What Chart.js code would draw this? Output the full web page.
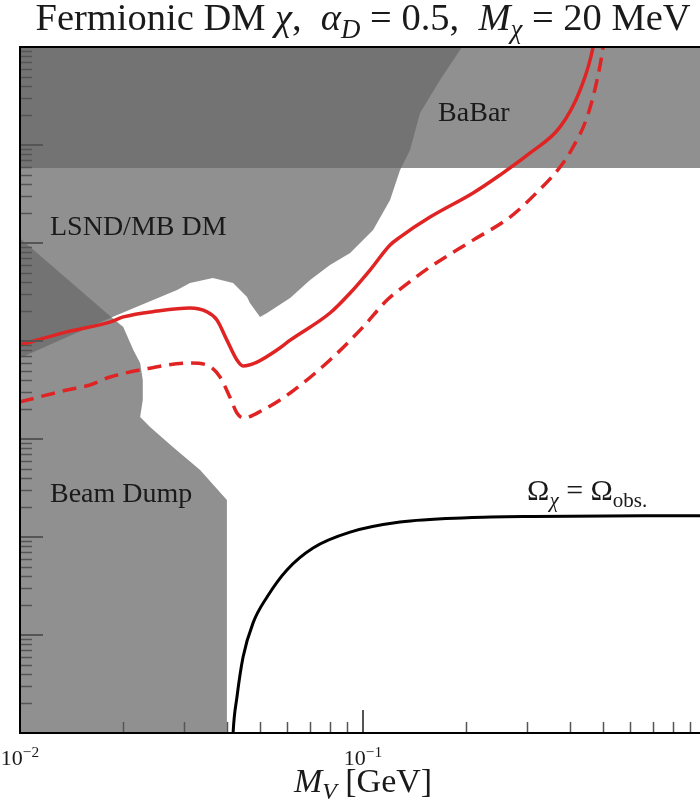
<!DOCTYPE html>
<html>
<head>
<meta charset="utf-8">
<script src="https://cdn.jsdelivr.net/npm/chart.js@4/dist/chart.umd.min.js"></script>
<style>
    html, body { margin: 0; padding: 0; background: #fff; overflow: hidden; }
    #wrap { width: 700px; height: 808px; }
</style>
</head>
<body>
<div id="wrap"><canvas id="chartDM" width="700" height="808"></canvas></div>
<script>
// axis ranges (x = M_V in GeV, y unlabeled in the figure)
var xMin = 0.01, xMax = 0.96;
var yMin = 1e-14, yMax = 1e-7;

var xMajor = [0.01, 0.1];
var xMinor = [0.02, 0.03, 0.04, 0.05, 0.06, 0.07, 0.08, 0.09, 0.2, 0.3, 0.4, 0.5, 0.6, 0.7, 0.8, 0.9];
var yDecades = [1e-14, 1e-13, 1e-12, 1e-11, 1e-10, 1e-9, 1e-8, 1e-7];

// red solid curve
var solidX = [0.0100, 0.0137, 0.0183, 0.0200, 0.0251, 0.0313, 0.0351, 0.0375, 0.0401, 0.0429, 0.0447, 0.0491, 0.0561, 0.0613, 0.0801, 0.0917, 0.1048, 0.1199, 0.1282, 0.1568, 0.2093, 0.2508, 0.3069, 0.3753, 0.4293, 0.4684, 0.4811];
var solidY = [9.10e-11, 1.24e-10, 1.56e-10, 1.76e-10, 2.02e-10, 2.17e-10, 1.98e-10, 1.64e-10, 1.02e-10, 6.40e-11, 5.56e-11, 6.10e-11, 8.09e-11, 1.02e-10, 1.93e-10, 3.09e-10, 5.30e-10, 9.54e-10, 1.15e-9, 1.84e-9, 3.24e-9, 4.94e-9, 8.29e-9, 1.53e-8, 3.64e-8, 1.0e-7, 1.9e-7];

// red dashed curve
var dashX = [0.0100, 0.0137, 0.0160, 0.0183, 0.0224, 0.0313, 0.0351, 0.0383, 0.0409, 0.0429, 0.0447, 0.0511, 0.0613, 0.0801, 0.1000, 0.1175, 0.1308, 0.1568, 0.2093, 0.2683, 0.3217, 0.3753, 0.4095, 0.4500, 0.4811, 0.5008, 0.5110];
var dashY = [2.39e-11, 3.16e-11, 3.56e-11, 4.29e-11, 5.06e-11, 5.96e-11, 5.69e-11, 4.29e-11, 2.68e-11, 1.84e-11, 1.64e-11, 1.98e-11, 2.95e-11, 6.40e-11, 1.39e-10, 2.62e-10, 3.56e-10, 5.69e-10, 1.07e-9, 1.84e-9, 3.30e-9, 5.96e-9, 9.54e-9, 1.93e-8, 4.61e-8, 1.0e-7, 1.9e-7];

// relic abundance curve
var relicX = [0.0415, 0.0418, 0.0429, 0.0447, 0.0478, 0.0525, 0.0600, 0.0715, 0.0917, 0.1282, 0.2011, 0.3131, 0.9600];
var relicY = [5e-15, 1e-14, 2.33e-14, 5.96e-14, 1.33e-13, 2.44e-13, 4.61e-13, 7.72e-13, 1.12e-12, 1.42e-12, 1.57e-12, 1.62e-12, 1.65e-12];

// excluded regions (closed outlines)
var babarX = [0.009, 1.0, 1.0, 0.009];
var babarY = [1.2e-7, 1.2e-7, 5.82e-9, 5.82e-9];

var lsndX = [0.009, 0.198, 0.1944, 0.1677, 0.1466, 0.1371, 0.1282, 0.1199, 0.1070, 0.0917, 0.0801, 0.0701, 0.0613, 0.0525, 0.0501, 0.0468, 0.0459, 0.0418, 0.0365, 0.0313, 0.0287, 0.0183, 0.0100, 0.009];
var lsndY = [1.2e-7, 1.2e-7, 1.0e-7, 4.61e-8, 2.12e-8, 8.89e-9, 5.56e-9, 2.75e-9, 1.36e-9, 7.91e-10, 5.96e-10, 4.19e-10, 2.75e-10, 1.93e-10, 1.76e-10, 2.44e-10, 2.81e-10, 3.91e-10, 4.39e-10, 3.91e-10, 3.31e-10, 1.72e-10, 6.71e-11, 5.70e-11];

var beamX = [0.009, 0.0100, 0.0183, 0.0200, 0.0214, 0.0224, 0.0228, 0.0228, 0.0224, 0.0239, 0.0279, 0.0335, 0.0401, 0.0401, 0.009];
var beamY = [1.54e-9, 1.12e-9, 1.80e-10, 1.39e-10, 8.09e-11, 5.96e-11, 4.00e-11, 2.50e-11, 1.68e-11, 1.33e-11, 8.29e-12, 4.83e-12, 2.39e-12, 5e-15, 5e-15];

// label anchors (left, baseline) in data coordinates
var labels = [
    { x: 0.1655, y: 1.76e-8, size: 28, parts: [{ t: 'BaBar' }] },
    { x: 0.01223, y: 1.21e-9, size: 28, parts: [{ t: 'LSND/MB DM' }] },
    { x: 0.01223, y: 2.28e-12, size: 28, parts: [{ t: 'Beam Dump' }] },
    { x: 0.3008, y: 2.39e-12, size: 30, parts: [{ t: 'Ω' }, { t: 'χ', it: true, sub: true }, { t: ' = Ω' }, { t: 'obs.', sub: true }] }
];

var SERIF = '"Liberation Serif", "Times New Roman", serif';

function pts(xs, ys) {
    return xs.map(function (x, i) { return { x: x, y: ys[i] }; });
}

function fontFor(p, size) {
    var s = (p.sub || p.sup) ? size * 0.7 : size;
    return (p.it ? 'italic ' : '') + s.toFixed(1) + 'px ' + SERIF;
}

function drawRich(ctx, parts, x, y, size, align) {
    var total = 0;
    parts.forEach(function (p) {
        ctx.font = fontFor(p, size);
        p.w = ctx.measureText(p.t).width;
        total += p.w;
    });
    var cx = align === 'center' ? x - total / 2 : x;
    parts.forEach(function (p) {
        ctx.font = fontFor(p, size);
        var dy = p.sub ? size * 0.22 : (p.sup ? -size * 0.36 : 0);
        ctx.fillText(p.t, cx, y + dy);
        cx += p.w;
    });
}

var framePlugin = {
    id: 'frame',
    afterDatasetsDraw: function (chart) {
        var ctx = chart.ctx, a = chart.chartArea;
        var xs = chart.scales.x, ys = chart.scales.y;
        ctx.save();

        // inward ticks
        ctx.strokeStyle = '#555';
        ctx.lineWidth = 1.5;
        ctx.beginPath();
        xMinor.forEach(function (v) {
            var px = Math.round(xs.getPixelForValue(v)) + 0.5;
            ctx.moveTo(px, a.bottom); ctx.lineTo(px, a.bottom - 11);
        });
        yDecades.forEach(function (d) {
            for (var k = 2; k <= 9; k++) {
                var py = Math.round(ys.getPixelForValue(d * k)) + 0.5;
                if (py < a.top) continue;
                ctx.moveTo(a.left, py); ctx.lineTo(a.left + 12, py);
            }
        });
        ctx.stroke();
        ctx.lineWidth = 2;
        ctx.beginPath();
        xMajor.forEach(function (v) {
            var px = Math.round(xs.getPixelForValue(v));
            ctx.moveTo(px, a.bottom); ctx.lineTo(px, a.bottom - 23);
        });
        yDecades.forEach(function (d) {
            var py = Math.round(ys.getPixelForValue(d));
            ctx.moveTo(a.left, py); ctx.lineTo(a.left + 23, py);
        });
        ctx.stroke();

        // frame (right side lies outside the picture)
        ctx.strokeStyle = '#000';
        ctx.lineWidth = 2;
        ctx.beginPath();
        ctx.moveTo(a.right + 2, a.top); ctx.lineTo(a.left, a.top);
        ctx.lineTo(a.left, a.bottom); ctx.lineTo(a.right + 2, a.bottom);
        ctx.stroke();

        ctx.fillStyle = '#1a1a1a';
        ctx.textBaseline = 'alphabetic';
        ctx.textAlign = 'left';

        // region labels
        labels.forEach(function (l) {
            drawRich(ctx, l.parts, xs.getPixelForValue(l.x), ys.getPixelForValue(l.y), l.size, 'left');
        });

        // tick labels
        xMajor.forEach(function (v) {
            var e = Math.round(Math.log10(v));
            drawRich(ctx, [{ t: '10' }, { t: '\u2212' + Math.abs(e), sup: true }],
                xs.getPixelForValue(v), a.bottom + 32, 22, 'center');
        });

        // axis title and title, centred on the 10^-1 tick
        var mid = xs.getPixelForValue(0.1);
        drawRich(ctx, [{ t: 'M', it: true }, { t: 'V', it: true, sub: true }, { t: ' [GeV]' }],
            mid, a.bottom + 59, 34, 'center');
        drawRich(ctx, [
            { t: 'Fermionic DM ' }, { t: 'χ', it: true }, { t: ',  ' },
            { t: 'α', it: true }, { t: 'D', it: true, sub: true }, { t: ' = 0.5,  ' },
            { t: 'M', it: true }, { t: 'χ', it: true, sub: true }, { t: ' = 20 MeV' }
        ], mid, 30, 38.5, 'center');

        ctx.restore();
    }
};

var regionFill = 'rgba(105, 105, 105, 0.74)';

function region(name, xs, ys) {
    return {
        label: name,
        data: pts(xs, ys),
        showLine: true,
        fill: 'shape',
        backgroundColor: regionFill,
        borderWidth: 0,
        pointRadius: 0,
        tension: 0,
        order: 2
    };
}

function curve(name, xs, ys, color, width, dash) {
    return {
        label: name,
        data: pts(xs, ys),
        showLine: true,
        borderColor: color,
        borderWidth: width,
        borderDash: dash || [],
        pointRadius: 0,
        cubicInterpolationMode: 'monotone',
        order: 0
    };
}

new Chart(document.getElementById('chartDM'), {
    type: 'scatter',
    data: {
        datasets: [
            curve('relic', relicX, relicY, '#000', 3),
            curve('solid', solidX, solidY, '#e02424', 3.5),
            curve('dashed', dashX, dashY, '#e02424', 3.5, [14, 8]),
            region('BaBar', babarX, babarY),
            region('LSND/MB DM', lsndX, lsndY),
            region('Beam Dump', beamX, beamY)
        ]
    },
    options: {
        responsive: false,
        animation: false,
        layout: { padding: { left: 20, top: 47, right: 0, bottom: 75 } },
        scales: {
            x: {
                type: 'logarithmic',
                min: xMin,
                max: xMax,
                ticks: { display: false },
                grid: { display: false },
                border: { display: false },
                afterFit: function (s) { s.height = 0; }
            },
            y: {
                type: 'logarithmic',
                min: yMin,
                max: yMax,
                ticks: { display: false },
                grid: { display: false },
                border: { display: false },
                afterFit: function (s) { s.width = 0; }
            }
        },
        plugins: {
            legend: { display: false },
            tooltip: { enabled: false }
        }
    },
    plugins: [framePlugin]
});
</script>
</body>
</html>
